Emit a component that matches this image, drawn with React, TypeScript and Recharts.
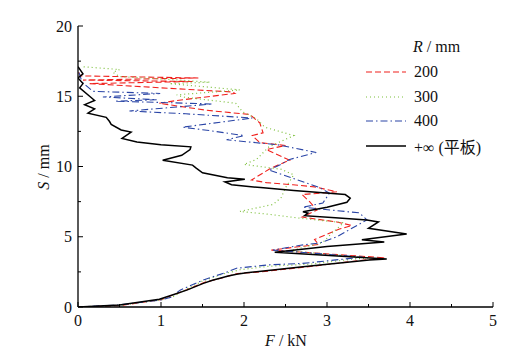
import { LineChart, Line, XAxis, YAxis } from "recharts";

// F (kN) and S (mm) traces, ordered by increasing S
const r200F = [0, 0.5, 1.0, 1.12, 1.32, 1.52, 1.72, 1.92, 2.2, 2.75, 3.5, 3.7, 2.33, 2.6, 2.9, 2.85, 3.05, 3.15, 3.3, 3.12, 2.7, 2.88, 2.79, 2.7, 3.12, 2.85, 2.59, 2.27, 2.09, 2.33, 2.55, 2.27, 2.5, 2.19, 2.1, 2.23, 2.19, 2.07, 1.55, 0.98, 1.19, 1.89, 1.86, 0.14, 1.38, 0.06, 1.45, 0.03, 0];
const r200S = [0, 0.1, 0.52, 0.8, 1.25, 1.75, 2.05, 2.38, 2.5, 2.85, 3.38, 3.5, 4.05, 4.25, 4.45, 4.8, 5.3, 5.55, 5.8, 6.05, 6.4, 6.9, 7.5, 8.0, 8.2, 8.55, 8.7, 8.85, 9.04, 9.9, 10.45, 11.2, 11.5, 11.7, 12.2, 12.4, 13.1, 13.7, 14.0, 14.5, 14.7, 15.2, 15.3, 15.9, 16.05, 16.15, 16.3, 16.45, 16.8];

const r300F = [0, 0.5, 1.0, 1.15, 1.3, 1.5, 1.75, 1.95, 2.3, 2.8, 3.3, 3.5, 2.55, 2.95, 3.05, 3.2, 2.7, 2.3, 1.95, 2.35, 2.45, 2.5, 2.6, 2.45, 2.0, 2.15, 2.3, 2.6, 2.25, 2.15, 1.98, 1.9, 1.26, 1.19, 1.95, 1.1, 1.59, 1.1, 0.5, 0.42, 0.5, 0.06];
const r300S = [0, 0.12, 0.5, 0.75, 1.25, 1.85, 2.35, 2.65, 2.9, 3.05, 3.4, 3.5, 4.0, 4.6, 5.2, 6.0, 6.3, 6.6, 6.8, 7.3, 7.8, 8.5, 9.4, 9.8, 10.15, 10.5, 11.4, 12.2, 12.8, 13.4, 13.9, 14.5, 14.95, 15.1, 15.45, 15.9, 16.0, 16.2, 16.4, 16.7, 16.9, 17.1];

const r400F = [0, 0.5, 1.0, 1.12, 1.23, 1.51, 1.8, 1.91, 2.3, 2.7, 3.35, 3.43, 2.35, 2.68, 2.91, 3.12, 3.3, 3.48, 3.39, 2.71, 2.95, 3.03, 2.91, 2.47, 2.3, 2.43, 2.55, 2.87, 2.4, 1.79, 2.0, 1.59, 1.26, 2.1, 1.3, 0.62, 1.62, 0.45, 0.95, 0.3, 0.99, 0.18, 0.05, 0];
const r400S = [0, 0.15, 0.5, 0.7, 1.2, 1.92, 2.5, 2.76, 3.0, 3.1, 3.5, 3.55, 4.05, 4.4, 4.55, 5.0, 5.6, 6.2, 6.7, 7.1, 7.4, 8.1, 8.5, 9.4, 9.75, 10.1, 10.5, 11.0, 11.55, 11.9, 12.2, 12.55, 12.8, 13.45, 13.75, 13.95, 14.45, 14.65, 14.75, 14.95, 15.2, 15.35, 16.0, 16.9];

const plateF = [0, 0.5, 0.98, 1.1, 1.31, 1.51, 1.62, 1.71, 1.81, 1.91, 2.03, 2.15, 2.71, 3.51, 3.72, 2.37, 3.0, 3.69, 3.42, 3.96, 3.5, 3.62, 3.48, 3.1, 2.73, 2.77, 2.71, 3.0, 3.24, 3.28, 3.22, 2.6, 2.2, 1.85, 1.77, 2.01, 1.8, 1.5, 1.42, 1.38, 1.02, 1.25, 1.35, 1.36, 1.0, 0.71, 0.53, 0.64, 0.52, 0.4, 0.38, 0.34, 0.12, 0.2, 0.08, 0.2, 0.14, 0.02, 0.06, 0.0, 0.06, 0.0];
const plateS = [0, 0.14, 0.55, 0.78, 1.2, 1.68, 1.9, 2.04, 2.2, 2.33, 2.44, 2.51, 2.87, 3.35, 3.42, 3.9, 4.3, 4.63, 4.78, 5.2, 5.6, 6.05, 6.2, 6.35, 6.5, 6.68, 6.78, 7.1, 7.45, 7.75, 8.0, 8.3, 8.5, 8.7, 8.9, 9.1, 9.2, 9.55, 9.9, 10.1, 10.45, 10.8, 11.2, 11.4, 11.55, 11.75, 12.0, 12.45, 12.6, 13.0, 13.2, 13.5, 13.8, 14.1, 14.4, 14.7, 15.0, 15.6, 15.9, 16.3, 16.6, 17.1];

const fTicks = [0, 0.5, 1, 1.5, 2, 2.5, 3, 3.5, 4, 4.5, 5];
const sTicks = [0, 2.5, 5, 7.5, 10, 12.5, 15, 17.5, 20];

const toPoints = (f: number[], s: number[]) => f.map((v, i) => ({ F: v, S: s[i] }));

const series = [
  { name: "200", data: toPoints(r200F, r200S), color: "#f0201c", dash: "6 3", width: 1.1 },
  { name: "300", data: toPoints(r300F, r300S), color: "#7cbf3a", dash: "1 3", width: 1.2 },
  { name: "400", data: toPoints(r400F, r400S), color: "#2a45a6", dash: "7 3 1.5 3", width: 1.1 },
  { name: "+∞ (平板)", data: toPoints(plateF, plateS), color: "#000000", dash: undefined, width: 1.5 },
];

const font = "Liberation Serif, Times New Roman, DejaVu Serif, Noto Sans CJK SC, serif";

function XTick(props: any) {
  const { x, y, payload } = props;
  const major = Number.isInteger(payload.value);
  return (
    <g>
      <line x1={x} x2={x} y1={y} y2={y - (major ? 5 : 3)} stroke="#000" strokeWidth={1} />
      {major && (
        <text x={x} y={y + 19} textAnchor="middle" fontSize={16} style={{ fontFamily: font }} fill="#111">
          {payload.value}
        </text>
      )}
    </g>
  );
}

function YTick(props: any) {
  const { x, y, payload } = props;
  const major = payload.value % 5 === 0;
  return (
    <g>
      <line x1={x} x2={x + (major ? 5 : 3)} y1={y} y2={y} stroke="#000" strokeWidth={1} />
      {major && (
        <text x={x - 6} y={y + 5.5} textAnchor="end" fontSize={16} style={{ fontFamily: font }} fill="#111">
          {payload.value}
        </text>
      )}
    </g>
  );
}

export default function App() {
  return (
    <div style={{ position: "absolute", left: 0, top: 0, width: 517, height: 358, background: "#fff", fontFamily: font }}>
      <LineChart width={517} height={358} margin={{ top: 26, right: 24, bottom: 21, left: 0 }}>
        <XAxis
          type="number"
          dataKey="F"
          domain={[0, 5]}
          ticks={fTicks}
          interval={0}
          height={30}
          tickSize={0}
          tickMargin={0}
          tickLine={false}
          tick={<XTick />}
          axisLine={{ stroke: "#000", strokeWidth: 1.3 }}
          allowDataOverflow
        />
        <YAxis
          type="number"
          dataKey="S"
          domain={[0, 20]}
          ticks={sTicks}
          interval={0}
          width={78}
          tickSize={0}
          tickMargin={0}
          tickLine={false}
          tick={<YTick />}
          axisLine={{ stroke: "#000", strokeWidth: 1.3 }}
          allowDataOverflow
        />
        {series.map((s) => (
          <Line
            key={s.name}
            data={s.data}
            dataKey="S"
            type="linear"
            stroke={s.color}
            strokeWidth={s.width}
            strokeDasharray={s.dash}
            dot={false}
            activeDot={false}
            isAnimationActive={false}
          />
        ))}
      </LineChart>

      <div style={{ position: "absolute", left: 236, top: 332, width: 100, textAlign: "center", fontSize: 16, color: "#111" }}>
        <i>F</i> / kN
      </div>
      <div
        style={{
          position: "absolute",
          left: 44,
          top: 167,
          fontSize: 16,
          color: "#111",
          whiteSpace: "nowrap",
          transform: "translate(-50%, -50%) rotate(-90deg)",
        }}
      >
        <i>S</i> / mm
      </div>

      <div style={{ position: "absolute", left: 413, top: 38, fontSize: 16, color: "#111", whiteSpace: "nowrap" }}>
        <i>R</i> / mm
      </div>
      {series.map((s, i) => (
        <div
          key={s.name}
          style={{ position: "absolute", left: 365, top: 62 + i * 24.7, height: 20, display: "flex", alignItems: "center", whiteSpace: "nowrap" }}
        >
          <svg width={42} height={10} style={{ marginRight: 7 }}>
            <line x1={1} x2={41} y1={5} y2={5} stroke={s.color} strokeWidth={s.width} strokeDasharray={s.dash} />
          </svg>
          <span style={{ fontSize: 16, color: "#111" }}>{s.name}</span>
        </div>
      ))}
    </div>
  );
}
